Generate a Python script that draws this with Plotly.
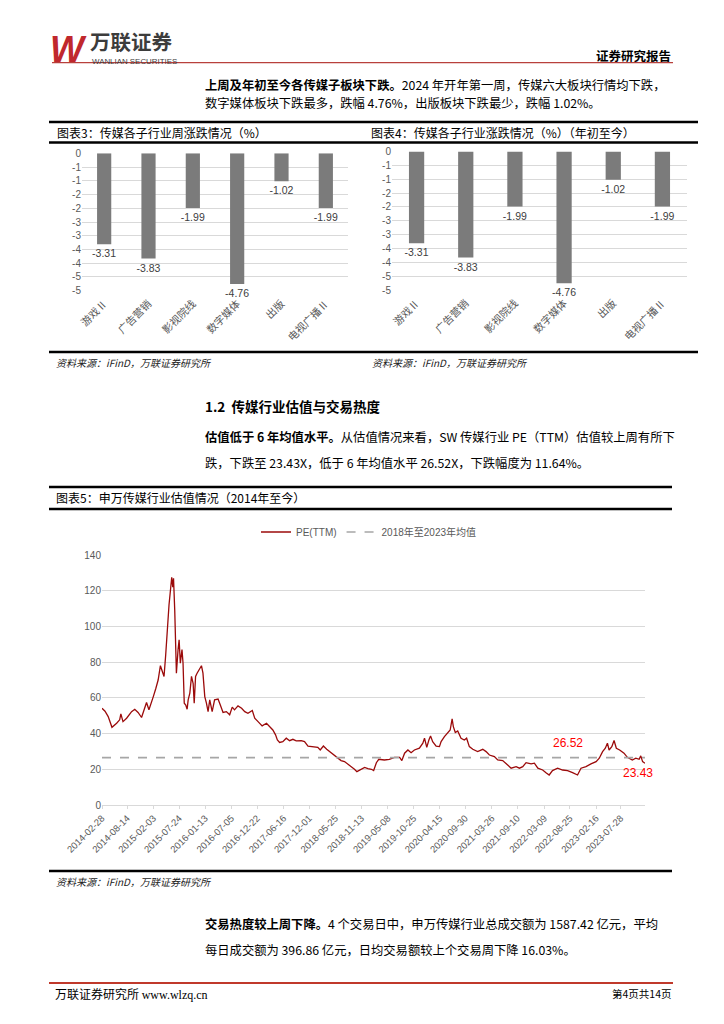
import plotly.graph_objects as go

W, H = 724, 1024

# ---------------- data ----------------
sectors = ["游戏Ⅱ", "广告营销", "影视院线", "数字媒体", "出版", "电视广播Ⅱ"]
weekly_change = [-3.31, -3.83, -1.99, -4.76, -1.02, -1.99]
ytd_change = [-3.31, -3.83, -1.99, -4.76, -1.02, -1.99]
bar_tickvals = [0, -0.5, -1, -1.5, -2, -2.5, -3, -3.5, -4, -4.5, -5]
bar_ticktext = ["0", "-1", "-1", "-2", "-2", "-3", "-3", "-4", "-4", "-5", "-5"]

pe_dates = [
    "2014-02-28", "2014-03-20", "2014-04-10", "2014-05-05", "2014-06-05", "2014-06-25",
    "2014-07-03", "2014-07-17", "2014-08-10", "2014-09-12", "2014-10-03", "2014-10-25",
    "2014-11-17", "2014-12-10", "2014-12-20", "2015-01-05", "2015-01-22", "2015-02-03",
    "2015-02-20", "2015-03-07", "2015-03-22", "2015-04-04", "2015-04-15", "2015-04-26",
    "2015-05-05", "2015-05-18", "2015-05-29", "2015-06-05", "2015-06-12", "2015-06-17",
    "2015-06-25", "2015-07-01", "2015-07-06", "2015-07-17", "2015-07-24", "2015-08-01",
    "2015-08-12", "2015-08-19", "2015-08-27", "2015-09-06", "2015-09-15", "2015-09-22",
    "2015-10-03", "2015-10-14", "2015-10-25", "2015-11-01", "2015-11-10", "2015-11-20",
    "2015-12-03", "2015-12-19", "2015-12-29", "2016-01-10", "2016-01-21", "2016-02-01",
    "2016-02-12", "2016-02-28", "2016-03-15", "2016-04-07", "2016-04-22", "2016-05-10",
    "2016-06-01", "2016-06-23", "2016-07-10", "2016-07-25", "2016-08-17", "2016-09-10",
    "2016-10-01", "2016-10-22", "2016-11-20", "2016-12-06", "2016-12-28", "2017-01-24",
    "2017-02-22", "2017-03-15", "2017-04-05", "2017-04-23", "2017-05-05", "2017-05-20",
    "2017-06-10", "2017-07-03", "2017-07-25", "2017-08-16", "2017-09-07", "2017-10-10",
    "2017-11-01", "2017-11-24", "2017-12-26", "2018-01-28", "2018-02-13", "2018-03-06",
    "2018-03-28", "2018-04-26", "2018-05-18", "2018-06-10", "2018-07-01", "2018-07-24",
    "2018-08-15", "2018-09-07", "2018-09-28", "2018-10-14", "2018-11-12", "2018-12-04",
    "2018-12-26", "2019-01-18", "2019-02-02", "2019-02-20", "2019-03-08", "2019-04-14",
    "2019-05-17", "2019-06-20", "2019-07-24", "2019-08-08", "2019-08-26", "2019-09-17",
    "2019-10-08", "2019-10-30", "2019-12-02", "2019-12-25", "2020-01-05", "2020-01-20",
    "2020-02-03", "2020-02-14", "2020-02-28", "2020-03-22", "2020-04-13", "2020-04-24",
    "2020-05-16", "2020-06-08", "2020-06-23", "2020-07-06", "2020-07-14", "2020-07-27",
    "2020-08-12", "2020-09-03", "2020-09-25", "2020-10-10", "2020-10-28", "2020-11-20",
    "2020-12-22", "2021-01-25", "2021-02-16", "2021-03-10", "2021-04-12", "2021-05-04",
    "2021-06-06", "2021-07-09", "2021-08-01", "2021-09-03", "2021-09-25", "2021-10-17",
    "2021-11-08", "2021-12-11", "2022-01-02", "2022-01-25", "2022-02-26", "2022-03-20",
    "2022-04-10", "2022-05-02", "2022-06-05", "2022-07-08", "2022-08-10", "2022-09-12",
    "2022-10-15", "2022-11-07", "2022-12-10", "2023-01-12", "2023-02-15", "2023-03-08",
    "2023-03-30", "2023-04-17", "2023-05-01", "2023-05-12", "2023-05-30", "2023-06-14",
    "2023-06-29", "2023-07-21", "2023-08-19", "2023-09-10", "2023-10-13", "2023-11-05",
    "2023-11-27", "2023-12-08", "2023-12-20", "2024-01-05",
]
pe_values = [
    54.2, 52.5, 49.5, 43.5, 45.8, 47.7,
    51.0, 46.7, 48.6, 52.3, 53.6, 51.8,
    49.0, 55.0, 57.4, 53.3, 58.5, 60.7,
    65.4, 70.0, 78.0, 74.8, 72.0, 84.0,
    97.0, 112.0, 121.5, 127.5, 122.0, 127.0,
    109.0, 88.8, 73.8, 87.0, 92.5, 79.4,
    87.0, 79.4, 57.0, 56.0, 53.6, 58.9,
    62.6, 72.0, 68.0, 57.0, 72.0, 73.8,
    75.7, 78.0, 73.8, 60.7, 57.0, 52.3,
    58.9, 52.3, 58.9, 59.3, 56.0, 51.8,
    52.3, 50.5, 54.8, 53.3, 55.5, 54.2,
    52.3, 51.4, 52.9, 48.6, 46.7, 44.3,
    45.8, 44.0, 42.0, 39.3, 36.4, 35.0,
    35.5, 37.4, 36.0, 36.8, 35.9, 36.0,
    35.5, 33.0, 32.7, 32.3, 30.8, 33.0,
    31.2, 29.3, 28.0, 26.2, 24.9, 24.3,
    23.0, 21.5, 20.0, 18.7, 20.0, 21.0,
    20.4, 20.0, 19.3, 23.7, 25.6, 25.2,
    25.6, 26.7, 26.7, 24.9, 29.0, 30.8,
    29.3, 30.8, 31.8, 34.6, 37.4, 32.3,
    36.4, 38.7, 35.5, 33.0, 32.7, 35.5,
    38.3, 40.2, 42.0, 48.2, 43.9, 40.6,
    41.5, 37.4, 36.4, 37.4, 32.7, 31.2,
    29.9, 31.2, 29.9, 28.0, 27.1, 25.2,
    24.9, 22.4, 20.6, 21.5, 20.6, 21.5,
    23.7, 23.0, 23.4, 20.6, 19.6, 18.1,
    16.8, 19.3, 20.6, 19.6, 19.3, 18.1,
    16.8, 20.6, 21.5, 23.0, 24.3, 26.2,
    29.9, 31.8, 34.6, 30.8, 32.7, 36.1,
    31.8, 30.8, 29.0, 26.7, 25.2, 26.2,
    25.6, 27.5, 24.3, 23.43,
]
mean_value = 26.52
latest_value = 23.43
pe_ticks = [
    "2014-02-28", "2014-08-14", "2015-02-03", "2015-07-24", "2016-01-13", "2016-07-05",
    "2016-12-22", "2017-06-16", "2017-12-01", "2018-05-25", "2018-11-13", "2019-05-08",
    "2019-10-25", "2020-04-15", "2020-09-30", "2021-03-26", "2021-09-10", "2022-03-09",
    "2022-08-25", "2023-02-16", "2023-07-28",
]

# ---------------- helpers ----------------
OFF = 8  # page margin of the html body

def fx(px):
    return (px - OFF) / W

def fy(py):
    return 1 - (py - OFF) / H

CJK = "Noto Sans CJK SC"
NARROW = "Liberation Sans Narrow, Liberation Sans, Arial"

fig = go.Figure()

# ---- bar charts ----
bar_color = "#7b7b7b"
for xa, ya, vals, wd in (("x", "y", weekly_change, 0.32), ("x2", "y2", ytd_change, 0.31)):
    fig.add_trace(go.Bar(
        x=sectors, y=vals, marker_color=bar_color, width=wd,
        texttemplate="%{y:.2f}", textposition="outside", cliponaxis=False,
        constraintext="none",
        textfont=dict(family=NARROW, size=10.5, color="#404040"),
        xaxis=xa, yaxis=ya, showlegend=False,
    ))

# ---- PE line chart ----
fig.add_trace(go.Scatter(
    x=pe_dates, y=pe_values, mode="lines", name="PE(TTM)",
    line=dict(color="#9b0a0a", width=1.3),
    xaxis="x3", yaxis="y3",
))
fig.add_trace(go.Scatter(
    x=[pe_dates[0], pe_dates[-1]], y=[mean_value, mean_value], mode="lines",
    name="2018年至2023年均值",
    line=dict(color="#a6a6a6", width=1.6, dash="dash"),
    xaxis="x3", yaxis="y3",
))

bar_y_common = dict(
    range=[-5, 0], tickvals=bar_tickvals, ticktext=bar_ticktext,
    showgrid=True, gridcolor="#d9d9d9", gridwidth=1, zeroline=False,
    tickfont=dict(family=NARROW, size=10, color="#595959"), ticks="",
    showline=False, automargin=False,
)
bar_x_common = dict(
    type="category", tickangle=-45, showgrid=False, zeroline=False,
    showline=False, ticks="", automargin=False, ticklabelstandoff=4,
    tickfont=dict(family=CJK, size=10.5, color="#595959"),
)

fig.update_layout(
    template="none",
    width=W, height=H, margin=dict(l=0, r=0, t=0, b=0, pad=0, autoexpand=False),
    paper_bgcolor="white", plot_bgcolor="white",
    font=dict(family=CJK, color="#000"),
    bargap=0.68,
    xaxis=dict(domain=[fx(82), fx(348)], anchor="y", **bar_x_common),
    yaxis=dict(domain=[fy(290.7), fy(153.3)], anchor="x", **bar_y_common),
    xaxis2=dict(domain=[fx(392), fx(687)], anchor="y2", **bar_x_common),
    yaxis2=dict(domain=[fy(290), fy(151.5)], anchor="x2", **bar_y_common),
    xaxis3=dict(
        domain=[fx(102), fx(645)], anchor="y3", type="date",
        range=[pe_dates[0], pe_dates[-1]], automargin=False,
        tickvals=pe_ticks, ticktext=pe_ticks, tickangle=-45,
        tickfont=dict(family=NARROW, size=9.5, color="#595959"),
        showgrid=False, showline=True, linecolor="#d9d9d9", linewidth=1,
        ticks="outside", ticklen=3, tickcolor="#d9d9d9", zeroline=False,
    ),
    yaxis3=dict(
        domain=[fy(805), fy(555)], anchor="x3", range=[0, 140], automargin=False,
        tickvals=[0, 20, 40, 60, 80, 100, 120, 140],
        showgrid=True, gridcolor="#d9d9d9", gridwidth=1, zeroline=False,
        tickfont=dict(family=NARROW, size=10, color="#595959"), ticks="",
    ),
    legend=dict(
        orientation="h", x=fx(256), y=fy(532), xanchor="left", yanchor="middle",
        font=dict(family=NARROW + ", " + CJK, size=10, color="#595959"),
        itemwidth=30, bgcolor="rgba(0,0,0,0)", tracegroupgap=0,
    ),
)

shapes = []
def hline(x0, x1, py, color, width):
    shapes.append(dict(type="line", xref="paper", yref="paper",
                       x0=fx(x0), x1=fx(x1), y0=fy(py), y1=fy(py),
                       line=dict(color=color, width=width)))

# header red line & footer red line
hline(52, 673, 62.7, "#b8403c", 1.2)
hline(49, 673, 983, "#c0392b", 2.2)
# chart 3/4 frame
hline(49, 698, 122, "#000", 2.6)
hline(49, 698, 142.5, "#000", 2.6)
hline(49, 698, 352, "#000", 2.6)
# chart 5 frame
hline(49, 672, 487, "#000", 2.6)
hline(49, 672, 509, "#000", 2.6)
hline(49, 672, 871, "#000", 2.6)
fig.update_layout(shapes=shapes)

ann = []
def text(px, py, s, size=12.5, color="#000", anchor="left", family=CJK, yanchor="middle"):
    ann.append(dict(xref="paper", yref="paper", x=fx(px), y=fy(py), text=s,
                    showarrow=False, xanchor=anchor, yanchor=yanchor,
                    font=dict(family=family, size=size, color=color)))

# header
text(48, 49.5, "<b><i>W</i></b>", size=36, color="#c0282d", family="Liberation Sans, Arial")
text(88, 58, "<b>万联证券</b>", size=20.5, color="#3c3c3c", yanchor="bottom")
text(90, 55, "WANLIAN SECURITIES", size=7.9, color="#3c3c3c",
     family="Liberation Sans, Arial", yanchor="top")
text(673, 55.5, "<b>证券研究报告</b>", size=12.5, anchor="right")

# paragraph 1
text(203, 85, "<b>上周及年初至今各传媒子板块下跌。</b>2024 年开年第一周，传媒六大板块行情均下跌，", size=12.3)
text(203, 103, "数字媒体板块下跌最多，跌幅 4.76%，出版板块下跌最少，跌幅 1.02%。", size=12.3)

# chart titles
text(55, 132.5, "图表3：传媒各子行业周涨跌情况（%）", size=12)
text(369, 132.5, "图表4：传媒各子行业涨跌情况（%）（年初至今）", size=12)
text(54, 362.5, "<i>资料来源：iFinD，万联证券研究所</i>", size=10, color="#222")
text(370, 362.5, "<i>资料来源：iFinD，万联证券研究所</i>", size=10, color="#222")

# section 1.2
text(203, 406, "<b>1.2  传媒行业估值与交易热度</b>", size=13.5)
text(203, 437, "<b>估值低于 6 年均值水平。</b>从估值情况来看，SW 传媒行业 PE（TTM）估值较上周有所下", size=12.3)
text(203, 463, "跌，下跌至 23.43X，低于 6 年均值水平 26.52X，下跌幅度为 11.64%。", size=12.3)
text(54, 497.5, "图表5：申万传媒行业估值情况（2014年至今）", size=12)

# PE annotations
ann.append(dict(xref="x3", yref="y3", x="2022-08-10", y=34.8, text=f"{mean_value:.2f}",
                showarrow=False, xanchor="center", yanchor="middle",
                font=dict(family="Liberation Sans, Arial", size=12, color="#ff0000")))
ann.append(dict(xref="x3", yref="y3", x="2023-11-20", y=18.0, text=f"{latest_value:.2f}",
                showarrow=False, xanchor="center", yanchor="middle",
                font=dict(family="Liberation Sans, Arial", size=12, color="#ff0000")))

text(54, 881.5, "<i>资料来源：iFinD，万联证券研究所</i>", size=10, color="#222")

# paragraph 3
text(203, 924, "<b>交易热度较上周下降。</b>4 个交易日中，申万传媒行业总成交额为 1587.42 亿元，平均", size=12.3)
text(203, 950, "每日成交额为 396.86 亿元，日均交易额较上个交易周下降 16.03%。", size=12.3)

# footer
text(53, 993, "万联证券研究所 <span style='font-family:Liberation Serif'>www.wlzq.cn</span>", size=12)
text(673, 993, "第4页共14页", size=10.5, anchor="right")

fig.update_layout(annotations=ann)

fig.write_html("out.html")
